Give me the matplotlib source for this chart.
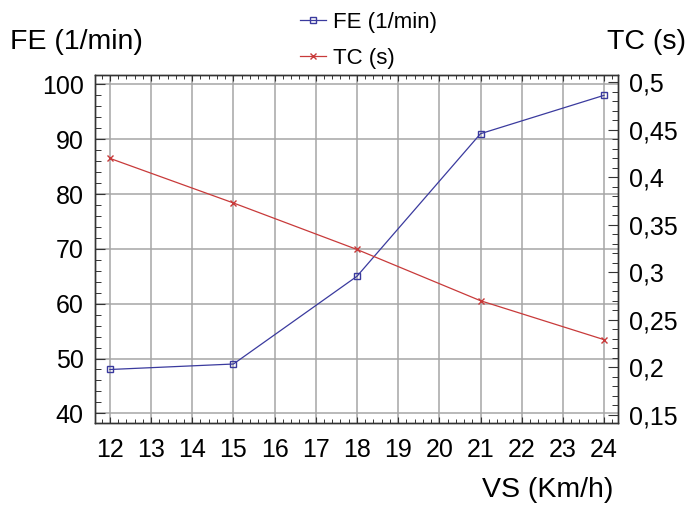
import matplotlib
matplotlib.use("Agg")
import matplotlib.pyplot as plt
from matplotlib.ticker import MultipleLocator, FuncFormatter

plt.rcParams['font.family'] = ['Liberation Sans', 'DejaVu Sans']

# data
vs = [12, 15, 18, 21, 24]
fe = [48, 49, 65, 91, 98]
tc = [0.42, 0.373, 0.324, 0.270, 0.229]

blue = '#3a3a9e'
red = '#c83a3a'
grid_c = '#a6a6a6'

fig = plt.figure(figsize=(6.89, 5.07), dpi=100)
ax1 = fig.add_axes([0.1374, 0.1663, 0.897 - 0.1374, 0.852 - 0.1663])
ax2 = ax1.twinx()

l1, = ax1.plot(vs, fe, color=blue, lw=0.9, marker='s', ms=5, mfc='none',
               mec=blue, mew=1.0, label='FE (1/min)')
l2, = ax2.plot(vs, tc, color=red, lw=0.9, marker='x', ms=5, mec=red,
               mew=1.0, label='TC (s)')

ax1.set_xlim(11.63, 24.34)
ax1.set_ylim(38.3, 101.7)
ax2.set_ylim(0.1415, 0.5078)

ax1.xaxis.set_major_locator(MultipleLocator(1))
ax1.xaxis.set_minor_locator(MultipleLocator(0.2))
ax1.yaxis.set_major_locator(MultipleLocator(10))
ax1.yaxis.set_minor_locator(MultipleLocator(2))
ax2.yaxis.set_major_locator(MultipleLocator(0.05))
ax2.yaxis.set_minor_locator(MultipleLocator(0.01))
ax2.yaxis.set_major_formatter(
    FuncFormatter(lambda v, p: '{:g}'.format(round(v, 3)).replace('.', ',')))

ax1.grid(True, which='major', color=grid_c, lw=1.1)
ax1.set_axisbelow(True)

ax1.tick_params(axis='x', which='major', direction='in', top=True, bottom=True,
                length=4.3, width=0.8, labelsize=18, pad=11, color='#333333')
ax1.tick_params(axis='x', which='minor', direction='in', top=True, bottom=True,
                length=2.7, width=0.7, color='#333333')
ax1.tick_params(axis='y', which='major', direction='in', left=True, right=False,
                length=7.2, width=0.8, labelsize=18, pad=8, color='#333333')
ax1.tick_params(axis='y', which='minor', direction='in', left=True, right=False,
                length=4.3, width=0.7, color='#333333')
ax2.tick_params(axis='y', which='major', direction='in', length=7.2, width=0.8,
                labelsize=18, pad=8, color='#333333')
ax2.tick_params(axis='y', which='minor', direction='in', length=4.3, width=0.7,
                color='#333333')

for ax in (ax1, ax2):
    for s in ax.spines.values():
        s.set_color('#333333')
        s.set_linewidth(1.0)

fig.text(10 / 689, 1 - 42 / 507, 'FE (1/min)', fontsize=20.5, ha='left', va='center')
fig.text(686 / 689, 1 - 42 / 507, 'TC (s)', fontsize=20.5, ha='right', va='center')
fig.text(613 / 689, 1 - 490 / 507, 'VS (Km/h)', fontsize=20.5, ha='right', va='center')

fig.legend(handles=[l1, l2], loc='upper left',
           bbox_to_anchor=(300 / 689, 1 - 12 / 507), frameon=False,
           fontsize=16, handlelength=1.15, handletextpad=0.35,
           labelspacing=0.68, borderpad=0, borderaxespad=0)

fig.savefig('out.png', dpi=100)
